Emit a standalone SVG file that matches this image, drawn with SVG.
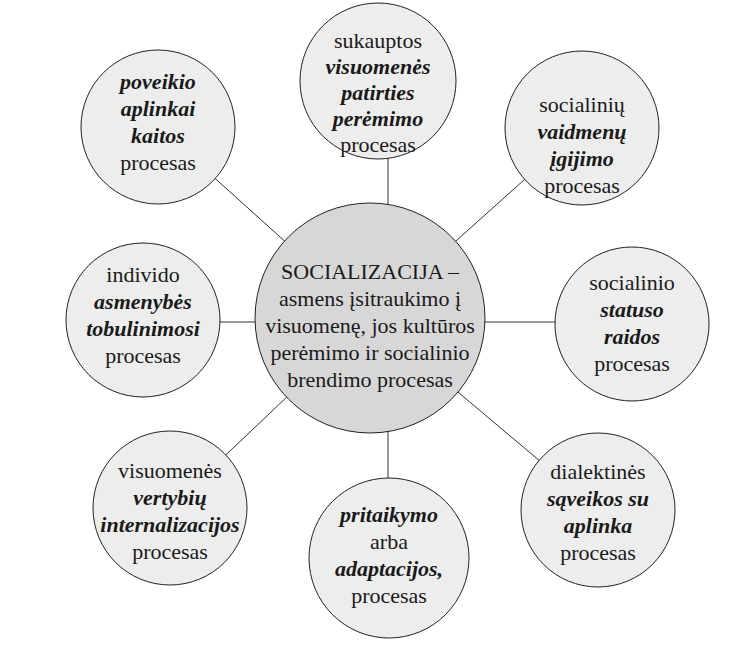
<svg xmlns="http://www.w3.org/2000/svg" width="731" height="647" viewBox="0 0 731 647">
<style>
.sat{fill:#ededed;stroke:#222;stroke-width:1}
.ctr{fill:#d7d7d7;stroke:#222;stroke-width:1}
.ln{stroke:#333;stroke-width:1;fill:none}
.t{font-size:22px;fill:#1a1a1a;text-anchor:middle}
.b{font-weight:bold;font-style:italic}
</style>
<rect width="731" height="647" fill="#fff"/>
<g id="connectors">
<line class="ln" x1="370" y1="318" x2="158" y2="127"/>
<line class="ln" x1="388" y1="205" x2="388" y2="155"/>
<line class="ln" x1="370" y1="318" x2="582" y2="128"/>
<line class="ln" x1="370" y1="322" x2="143" y2="322"/>
<line class="ln" x1="370" y1="322" x2="632" y2="322"/>
<line class="ln" x1="370" y1="318" x2="170" y2="508"/>
<line class="ln" x1="388" y1="430" x2="388" y2="480"/>
<line class="ln" x1="370" y1="318" x2="598" y2="510"/>
</g>
<g font-family="Liberation Serif, Times New Roman, serif">
<g id="n-topleft">
<circle class="sat" cx="158" cy="127" r="77"/>
<text class="t b" x="158" y="89">poveikio</text>
<text class="t b" x="158" y="116">aplinkai</text>
<text class="t b" x="158" y="143">kaitos</text>
<text class="t" x="158" y="170">procesas</text>
</g>
<g id="n-top">
<circle class="sat" cx="378" cy="81" r="78"/>
<text class="t" x="378" y="48">sukauptos</text>
<text class="t b" x="378" y="74">visuomenės</text>
<text class="t b" x="378" y="100">patirties</text>
<text class="t b" x="378" y="126">perėmimo</text>
<text class="t" x="378" y="152">procesas</text>
</g>
<g id="n-topright">
<circle class="sat" cx="582" cy="128" r="77"/>
<text class="t" x="582" y="112">socialinių</text>
<text class="t b" x="582" y="139">vaidmenų</text>
<text class="t b" x="582" y="166">įgijimo</text>
<text class="t" x="582" y="193">procesas</text>
</g>
<g id="n-left">
<circle class="sat" cx="143" cy="320" r="77"/>
<text class="t" x="143" y="282">individo</text>
<text class="t b" x="143" y="309">asmenybės</text>
<text class="t b" x="143" y="336">tobulinimosi</text>
<text class="t" x="143" y="363">procesas</text>
</g>
<g id="n-center">
<circle class="ctr" cx="370" cy="318" r="115"/>
<text class="t" x="370" y="279">SOCIALIZACIJA –</text>
<text class="t" x="370" y="306">asmens įsitraukimo į</text>
<text class="t" x="370" y="333">visuomenę, jos kultūros</text>
<text class="t" x="370" y="360">perėmimo ir socialinio</text>
<text class="t" x="370" y="387">brendimo procesas</text>
</g>
<g id="n-right">
<circle class="sat" cx="632" cy="324" r="77"/>
<text class="t" x="632" y="290">socialinio</text>
<text class="t b" x="632" y="317">statuso</text>
<text class="t b" x="632" y="344">raidos</text>
<text class="t" x="632" y="371">procesas</text>
</g>
<g id="n-bottomleft">
<circle class="sat" cx="170" cy="508" r="77"/>
<text class="t" x="170" y="478">visuomenės</text>
<text class="t b" x="170" y="505">vertybių</text>
<text class="t b" x="170" y="532">internalizacijos</text>
<text class="t" x="170" y="559">procesas</text>
</g>
<g id="n-bottom">
<circle class="sat" cx="389" cy="558" r="80"/>
<text class="t b" x="389" y="522">pritaikymo</text>
<text class="t" x="389" y="549">arba</text>
<text class="t b" x="389" y="576">adaptacijos,</text>
<text class="t" x="389" y="603">procesas</text>
</g>
<g id="n-bottomright">
<circle class="sat" cx="598" cy="510" r="77"/>
<text class="t" x="598" y="479">dialektinės</text>
<text class="t b" x="598" y="506">sąveikos su</text>
<text class="t b" x="598" y="533">aplinka</text>
<text class="t" x="598" y="560">procesas</text>
</g>
</g>
</svg>
